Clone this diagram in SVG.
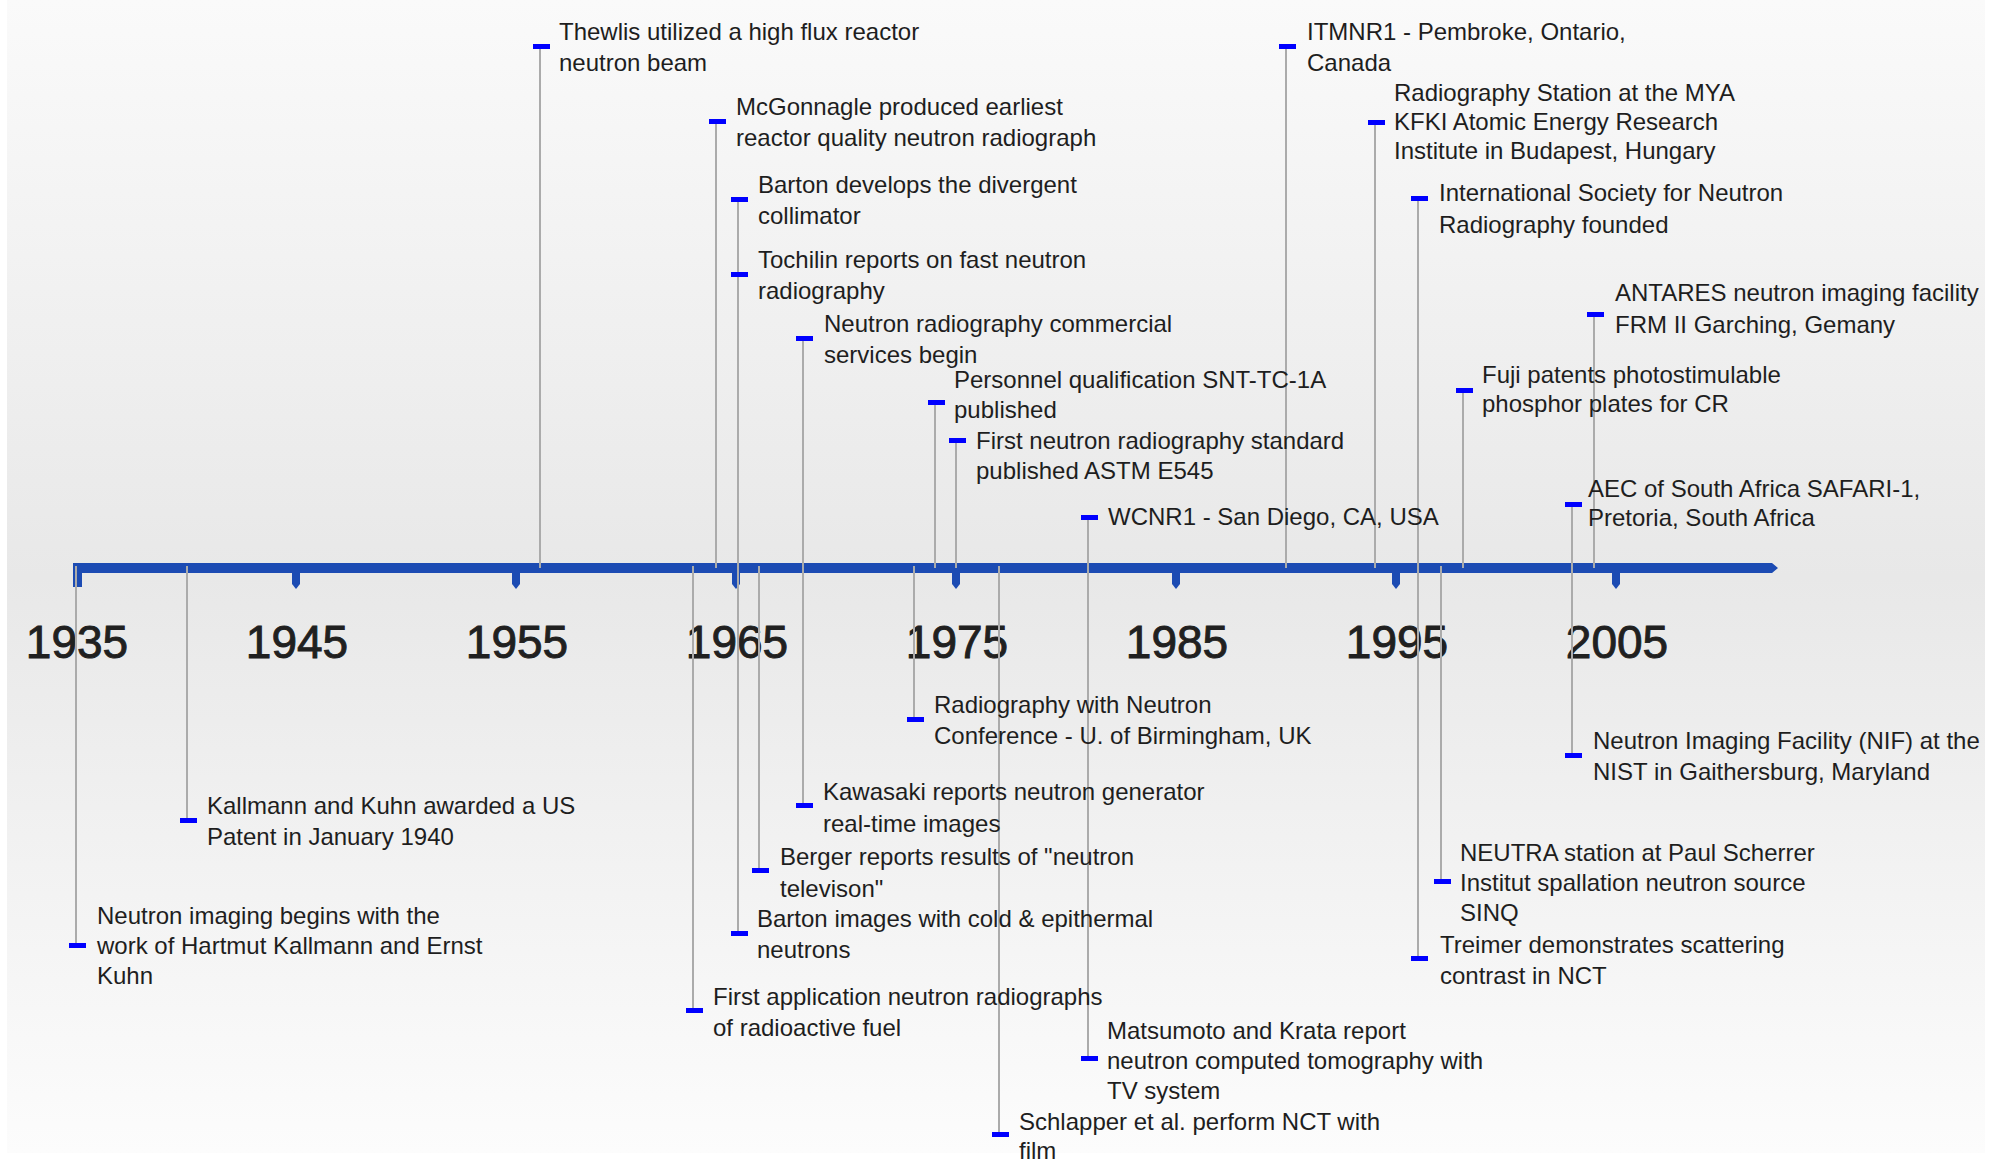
<svg xmlns="http://www.w3.org/2000/svg" width="1992" height="1168" viewBox="0 0 1992 1168">
<defs>
<linearGradient id="bg" x1="0" y1="0" x2="0" y2="1">
<stop offset="0" stop-color="#fafafa"/>
<stop offset="0.5" stop-color="#e8e8e8"/>
<stop offset="1" stop-color="#fcfcfc"/>
</linearGradient>
</defs>
<style>
.t{font-family:"Liberation Sans",Arial,sans-serif;font-size:24px;fill:#1e1e1e}
.yr{font-family:"Liberation Sans",Arial,sans-serif;font-size:46px;fill:#202020;stroke:#202020;stroke-width:0.9;text-anchor:middle}
.m{fill:#0000ff}
.c{stroke:#ababab;stroke-width:2;fill:none}
.ax{fill:#1c4bb3}
</style>
<rect x="0" y="0" width="1992" height="1168" fill="#ffffff"/>
<rect x="7" y="0" width="1978" height="1153" fill="url(#bg)"/>
<g id="axis">
<path class="ax" d="M73,563 H1772 L1778,568 L1772,573 H82 V587 H73 Z"/>
<path class="ax" d="M292,572 H300 V584 L296,589 L292,584 Z"/>
<path class="ax" d="M512,572 H520 V584 L516,589 L512,584 Z"/>
<path class="ax" d="M732,572 H740 V584 L736,589 L732,584 Z"/>
<path class="ax" d="M952,572 H960 V584 L956,589 L952,584 Z"/>
<path class="ax" d="M1172,572 H1180 V584 L1176,589 L1172,584 Z"/>
<path class="ax" d="M1392,572 H1400 V584 L1396,589 L1392,584 Z"/>
<path class="ax" d="M1612,572 H1620 V584 L1616,589 L1612,584 Z"/>
</g>
<g id="years">
<text class="yr" x="77" y="658">1935</text>
<text class="yr" x="297" y="658">1945</text>
<text class="yr" x="517" y="658">1955</text>
<text class="yr" x="737" y="658">1965</text>
<text class="yr" x="957" y="658">1975</text>
<text class="yr" x="1177" y="658">1985</text>
<text class="yr" x="1397" y="658">1995</text>
<text class="yr" x="1617" y="658">2005</text>
</g>
<g id="connectors">
<line class="c" x1="540" y1="46" x2="540" y2="568"/>
<line class="c" x1="716" y1="121" x2="716" y2="568"/>
<line class="c" x1="738" y1="199" x2="738" y2="933"/>
<line class="c" x1="803" y1="338" x2="803" y2="805"/>
<line class="c" x1="935" y1="402" x2="935" y2="568"/>
<line class="c" x1="956" y1="440" x2="956" y2="568"/>
<line class="c" x1="1088" y1="517" x2="1088" y2="1058"/>
<line class="c" x1="1286" y1="46" x2="1286" y2="568"/>
<line class="c" x1="1375" y1="122" x2="1375" y2="568"/>
<line class="c" x1="1418" y1="198" x2="1418" y2="958"/>
<line class="c" x1="1463" y1="390" x2="1463" y2="568"/>
<line class="c" x1="1594" y1="314" x2="1594" y2="568"/>
<line class="c" x1="1572" y1="504" x2="1572" y2="755"/>
<line class="c" x1="76" y1="566" x2="76" y2="945"/>
<line class="c" x1="187" y1="566" x2="187" y2="820"/>
<line class="c" x1="693" y1="566" x2="693" y2="1010"/>
<line class="c" x1="759" y1="566" x2="759" y2="870"/>
<line class="c" x1="914" y1="566" x2="914" y2="719"/>
<line class="c" x1="999" y1="566" x2="999" y2="1134"/>
<line class="c" x1="1441" y1="566" x2="1441" y2="881"/>
</g>
<g id="e-thewlis"><rect class="m" x="533" y="44" width="17" height="5"/><text class="t" x="559" y="40">Thewlis utilized a high flux reactor<tspan x="559" y="71">neutron beam</tspan></text></g>
<g id="e-mcgonnagle"><rect class="m" x="709" y="119" width="17" height="5"/><text class="t" x="736" y="115">McGonnagle produced earliest<tspan x="736" y="146">reactor quality neutron radiograph</tspan></text></g>
<g id="e-barton-collimator"><rect class="m" x="731" y="197" width="17" height="5"/><text class="t" x="758" y="193">Barton develops the divergent<tspan x="758" y="224">collimator</tspan></text></g>
<g id="e-tochilin"><rect class="m" x="731" y="272" width="17" height="5"/><text class="t" x="758" y="268">Tochilin reports on fast neutron<tspan x="758" y="299">radiography</tspan></text></g>
<g id="e-commercial"><rect class="m" x="796" y="336" width="17" height="5"/><text class="t" x="824" y="332">Neutron radiography commercial<tspan x="824" y="363">services begin</tspan></text></g>
<g id="e-personnel"><rect class="m" x="928" y="400" width="17" height="5"/><text class="t" x="954" y="388">Personnel qualification SNT-TC-1A<tspan x="954" y="418">published</tspan></text></g>
<g id="e-standard"><rect class="m" x="949" y="438" width="17" height="5"/><text class="t" x="976" y="449">First neutron radiography standard<tspan x="976" y="479">published ASTM E545</tspan></text></g>
<g id="e-wcnr1"><rect class="m" x="1081" y="515" width="17" height="5"/><text class="t" x="1108" y="525">WCNR1 - San Diego, CA, USA</text></g>
<g id="e-itmnr1"><rect class="m" x="1279" y="44" width="17" height="5"/><text class="t" x="1307" y="40">ITMNR1 - Pembroke, Ontario,<tspan x="1307" y="71">Canada</tspan></text></g>
<g id="e-mya"><rect class="m" x="1368" y="120" width="17" height="5"/><text class="t" x="1394" y="101">Radiography Station at the MYA<tspan x="1394" y="130">KFKI Atomic Energy Research</tspan><tspan x="1394" y="159">Institute in Budapest, Hungary</tspan></text></g>
<g id="e-isnr"><rect class="m" x="1411" y="196" width="17" height="5"/><text class="t" x="1439" y="201">International Society for Neutron<tspan x="1439" y="233">Radiography founded</tspan></text></g>
<g id="e-fuji"><rect class="m" x="1456" y="388" width="17" height="5"/><text class="t" x="1482" y="383">Fuji patents photostimulable<tspan x="1482" y="412">phosphor plates for CR</tspan></text></g>
<g id="e-antares"><rect class="m" x="1587" y="312" width="17" height="5"/><text class="t" x="1615" y="301">ANTARES neutron imaging facility<tspan x="1615" y="333">FRM II Garching, Gemany</tspan></text></g>
<g id="e-aec"><rect class="m" x="1565" y="502" width="17" height="5"/><text class="t" x="1588" y="497">AEC of South Africa SAFARI-1,<tspan x="1588" y="526">Pretoria, South Africa</tspan></text></g>
<g id="e-imaging-begins"><rect class="m" x="69" y="943" width="17" height="5"/><text class="t" x="97" y="924">Neutron imaging begins with the<tspan x="97" y="954">work of Hartmut Kallmann and Ernst</tspan><tspan x="97" y="984">Kuhn</tspan></text></g>
<g id="e-patent"><rect class="m" x="180" y="818" width="17" height="5"/><text class="t" x="207" y="814">Kallmann and Kuhn awarded a US<tspan x="207" y="845">Patent in January 1940</tspan></text></g>
<g id="e-first-application"><rect class="m" x="686" y="1008" width="17" height="5"/><text class="t" x="713" y="1005">First application neutron radiographs<tspan x="713" y="1036">of radioactive fuel</tspan></text></g>
<g id="e-barton-cold"><rect class="m" x="731" y="931" width="17" height="5"/><text class="t" x="757" y="927">Barton images with cold &amp; epithermal<tspan x="757" y="958">neutrons</tspan></text></g>
<g id="e-berger"><rect class="m" x="752" y="868" width="17" height="5"/><text class="t" x="780" y="865">Berger reports results of "neutron<tspan x="780" y="897">televison"</tspan></text></g>
<g id="e-kawasaki"><rect class="m" x="796" y="803" width="17" height="5"/><text class="t" x="823" y="800">Kawasaki reports neutron generator<tspan x="823" y="832">real-time images</tspan></text></g>
<g id="e-birmingham"><rect class="m" x="907" y="717" width="17" height="5"/><text class="t" x="934" y="713">Radiography with Neutron<tspan x="934" y="744">Conference - U. of Birmingham, UK</tspan></text></g>
<g id="e-schlapper"><rect class="m" x="992" y="1132" width="17" height="5"/><text class="t" x="1019" y="1130">Schlapper et al. perform NCT with<tspan x="1019" y="1159">film</tspan></text></g>
<g id="e-matsumoto"><rect class="m" x="1081" y="1056" width="17" height="5"/><text class="t" x="1107" y="1039">Matsumoto and Krata report<tspan x="1107" y="1069">neutron computed tomography with</tspan><tspan x="1107" y="1099">TV system</tspan></text></g>
<g id="e-neutra"><rect class="m" x="1434" y="879" width="17" height="5"/><text class="t" x="1460" y="861">NEUTRA station at Paul Scherrer<tspan x="1460" y="891">Institut spallation neutron source</tspan><tspan x="1460" y="921">SINQ</tspan></text></g>
<g id="e-treimer"><rect class="m" x="1411" y="956" width="17" height="5"/><text class="t" x="1440" y="953">Treimer demonstrates scattering<tspan x="1440" y="984">contrast in NCT</tspan></text></g>
<g id="e-nif"><rect class="m" x="1565" y="753" width="17" height="5"/><text class="t" x="1593" y="749">Neutron Imaging Facility (NIF) at the<tspan x="1593" y="780">NIST in Gaithersburg, Maryland</tspan></text></g>
</svg>
